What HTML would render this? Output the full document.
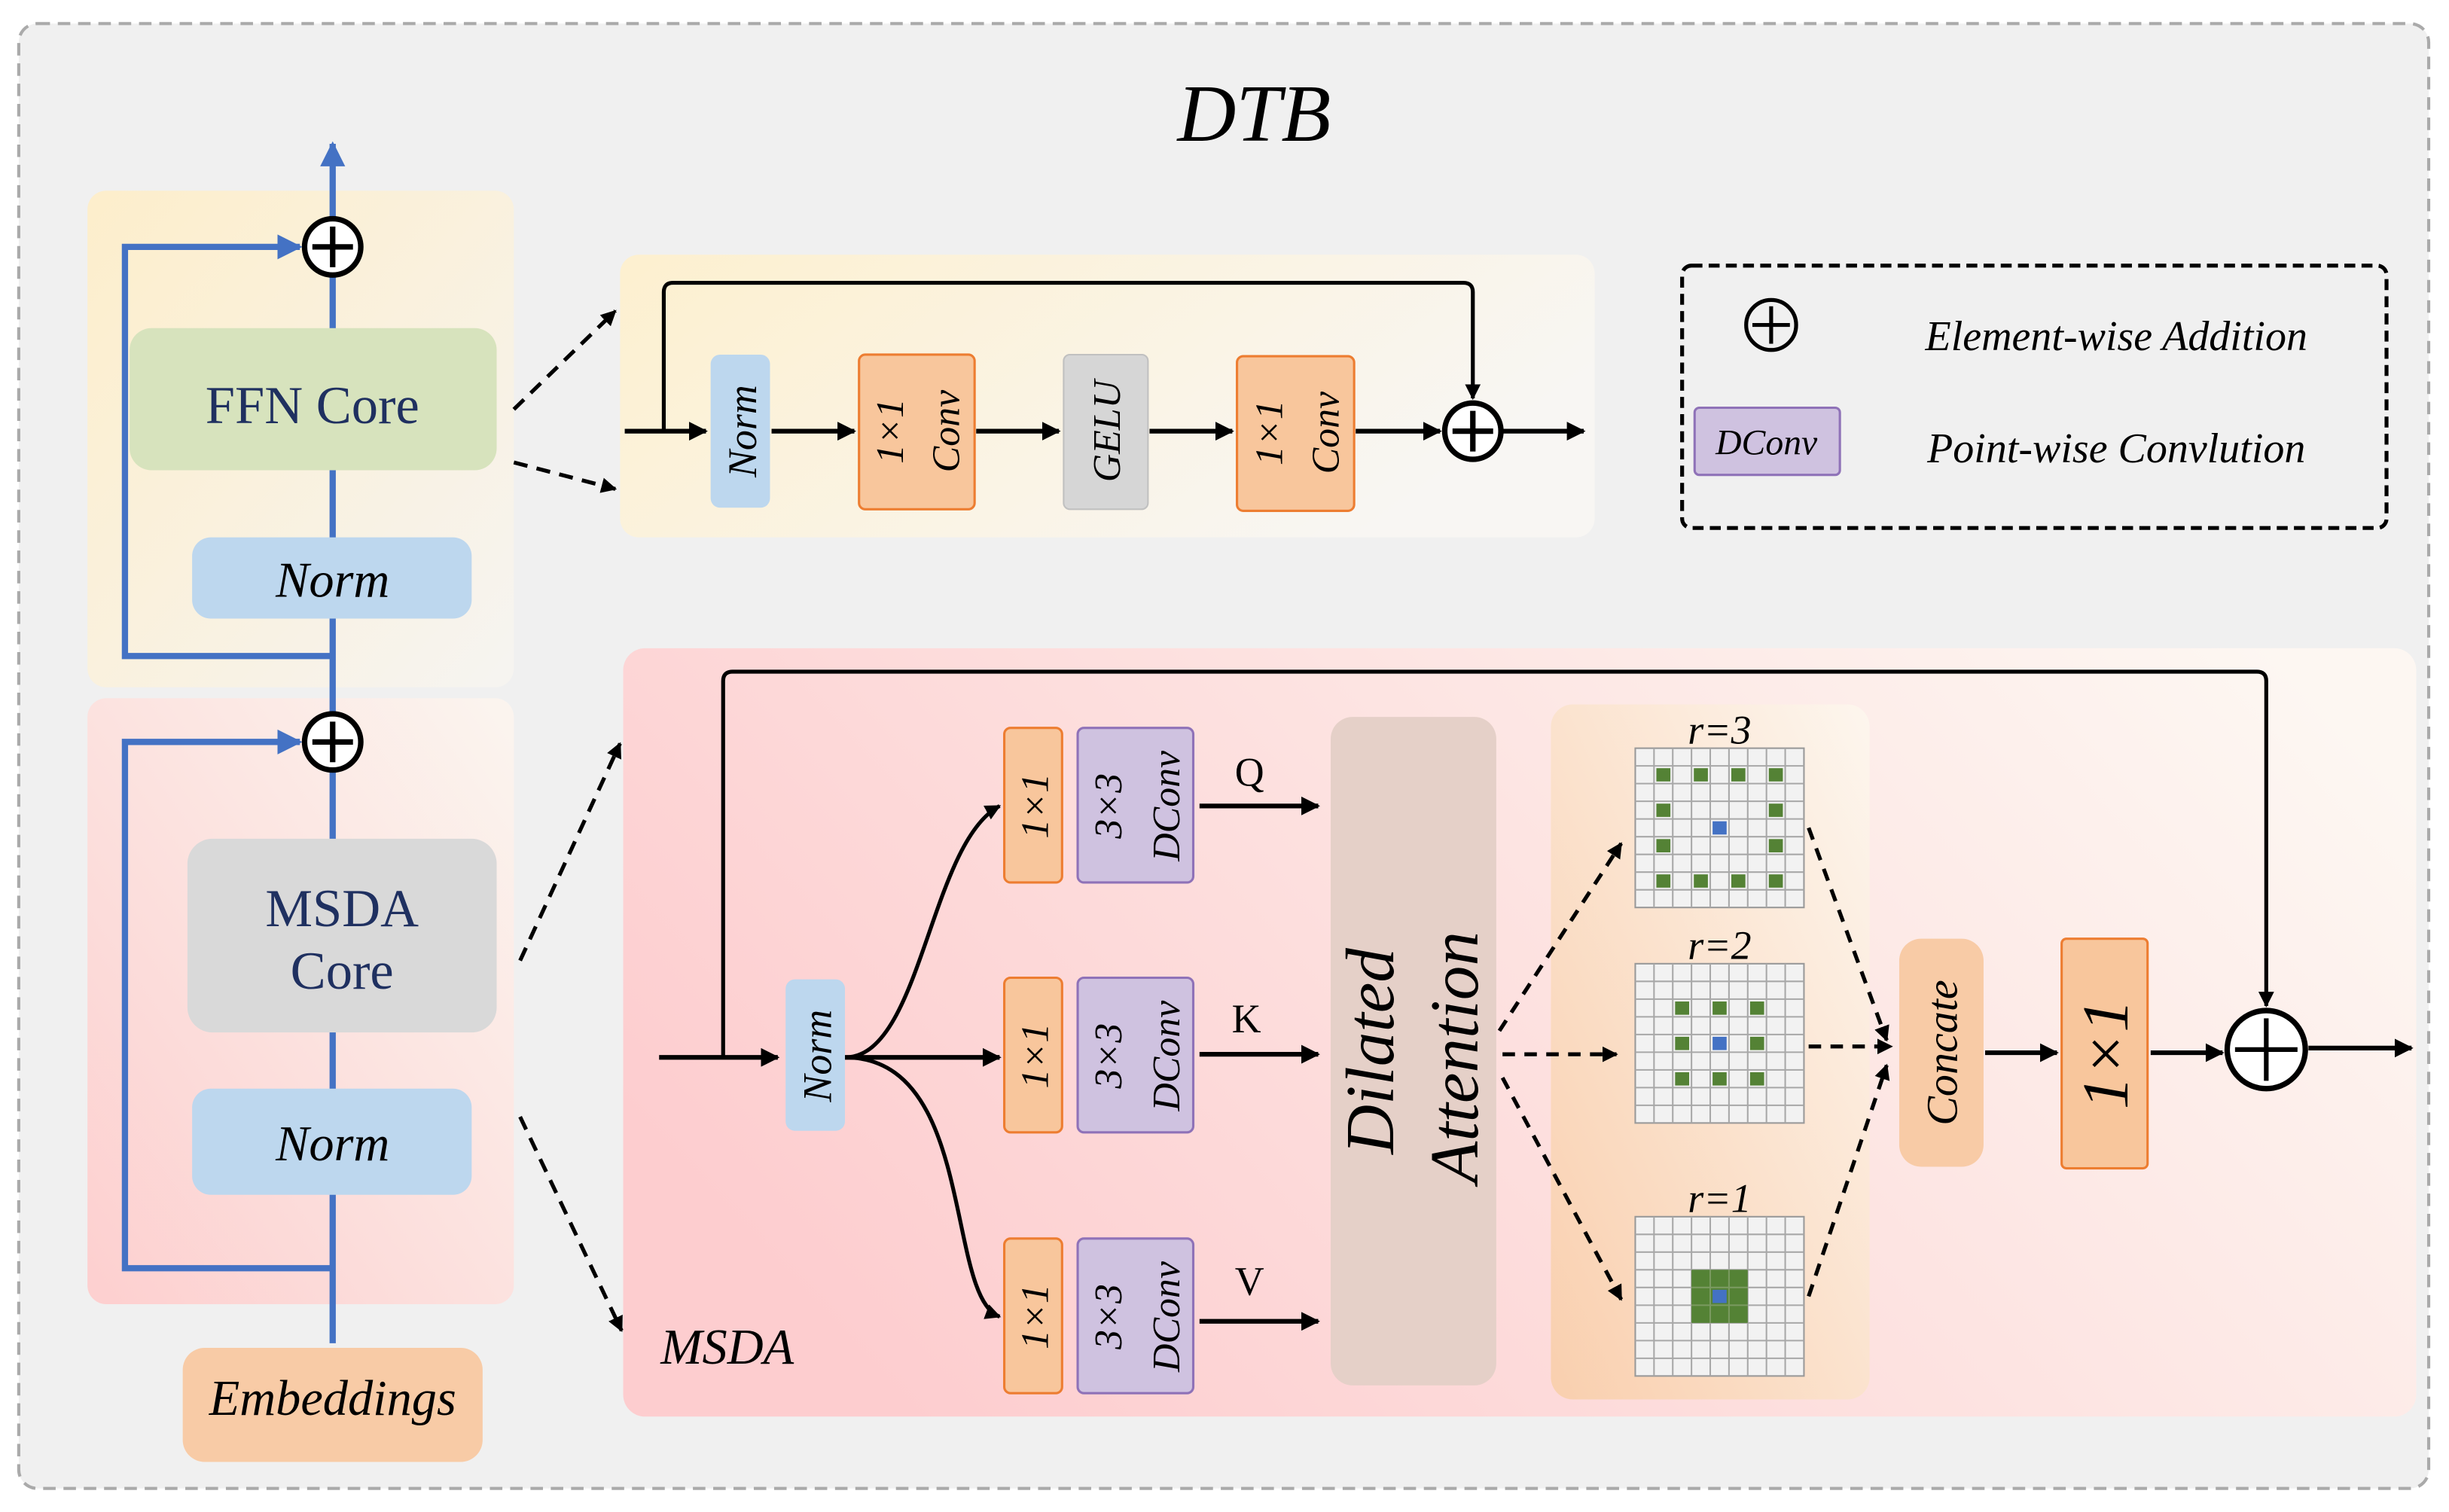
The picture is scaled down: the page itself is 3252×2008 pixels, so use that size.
<!DOCTYPE html>
<html><head><meta charset="utf-8"><style>html,body{margin:0;padding:0;background:#fff}svg{display:block}</style></head><body>
<svg width="3252" height="2008" viewBox="0 0 1568 968" xmlns="http://www.w3.org/2000/svg" font-family="'Liberation Serif', serif">
<defs>
<linearGradient id="gy" x1="0" y1="0" x2="1" y2="1"><stop offset="0" stop-color="#fdeecb"/><stop offset="1" stop-color="#f6f4f1"/></linearGradient>
<linearGradient id="gy2" x1="0" y1="0" x2="1" y2="0.4"><stop offset="0" stop-color="#fdf0cf"/><stop offset="1" stop-color="#f8f6f3"/></linearGradient>
<linearGradient id="gp" x1="0" y1="1" x2="1" y2="0"><stop offset="0" stop-color="#fdcfcf"/><stop offset="1" stop-color="#fbf5ef"/></linearGradient>
<linearGradient id="gp2" x1="0" y1="0.6" x2="1" y2="0.2"><stop offset="0" stop-color="#fdcdcf"/><stop offset="0.55" stop-color="#fde4e2"/><stop offset="1" stop-color="#fdf7f2"/></linearGradient>
<linearGradient id="gg" x1="1" y1="0" x2="0" y2="1"><stop offset="0" stop-color="#fdf6ee"/><stop offset="1" stop-color="#f9cfae"/></linearGradient>
<marker id="ab" viewBox="0 0 10 10" refX="9" refY="5" markerWidth="4" markerHeight="4" orient="auto"><path d="M0,0L10,5L0,10z" fill="#000"/></marker>
<marker id="abl" viewBox="0 0 10 10" refX="9" refY="5" markerWidth="4" markerHeight="4" orient="auto"><path d="M0,0L10,5L0,10z" fill="#4472c4"/></marker>
<g id="grid">
<rect x="0" y="0" width="108" height="102" fill="#f2f2f2" stroke="#999" stroke-width="1"/>
<path d="M12,0V102M24,0V102M36,0V102M48,0V102M60,0V102M72,0V102M84,0V102M96,0V102M0,11.33H108M0,22.67H108M0,34H108M0,45.33H108M0,56.67H108M0,68H108M0,79.33H108M0,90.67H108" stroke="#a8a8a8" stroke-width="1" fill="none"/>
</g>
<g id="plus"><circle r="18" fill="#fff" stroke="#000" stroke-width="3.5"/><path d="M-13,0H13M0,-13V13" stroke="#000" stroke-width="3.5"/></g>
</defs>
<rect width="1568" height="968" fill="#fff"/>
<rect x="12" y="15" width="1543" height="938" rx="12" fill="#f0f0f0" stroke="#aaa" stroke-width="2" stroke-dasharray="8,5"/>
<text x="803" y="90" font-size="52" font-style="italic" text-anchor="middle">DTB</text>

<!-- left panels -->
<rect x="56" y="122" width="273" height="318" rx="12" fill="url(#gy)"/>
<rect x="56" y="447" width="273" height="388" rx="12" fill="url(#gp)"/>
<!-- blue lines -->
<g stroke="#4472c4" stroke-width="4" fill="none">
<path d="M213,860V92" marker-end="url(#abl)"/>
<path d="M213,420H80V158H192" marker-end="url(#abl)"/>
<path d="M213,812H80V475H192" marker-end="url(#abl)"/>
</g>
<rect x="83" y="210" width="235" height="91" rx="14" fill="#d7e3bd"/>
<text x="200" y="271" font-size="34" fill="#1f3060" text-anchor="middle">FFN Core</text>
<rect x="123" y="344" width="179" height="52" rx="12" fill="#bdd7ee"/>
<text x="213" y="382" font-size="32" font-style="italic" text-anchor="middle">Norm</text>
<rect x="120" y="537" width="198" height="124" rx="16" fill="#d9d9d9"/>
<text x="219" y="593" font-size="34" fill="#1f3060" text-anchor="middle">MSDA</text>
<text x="219" y="633" font-size="34" fill="#1f3060" text-anchor="middle">Core</text>
<rect x="123" y="697" width="179" height="68" rx="12" fill="#bdd7ee"/>
<text x="213" y="743" font-size="32" font-style="italic" text-anchor="middle">Norm</text>
<rect x="117" y="863" width="192" height="73" rx="14" fill="#f8cba6"/>
<text x="213" y="906" font-size="32" font-style="italic" text-anchor="middle">Embeddings</text>
<use href="#plus" x="213" y="158"/>
<use href="#plus" x="213" y="475"/>

<!-- dashed connectors -->
<g stroke="#000" stroke-width="2.5" fill="none" stroke-dasharray="9,6">
<path d="M329,262L394,199" marker-end="url(#ab)"/>
<path d="M329,296L394,313" marker-end="url(#ab)"/>
<path d="M333,615L397,476" marker-end="url(#ab)"/>
<path d="M333,715L398,852" marker-end="url(#ab)"/>
</g>

<!-- FFN detail -->
<rect x="397" y="163" width="624" height="181" rx="12" fill="url(#gy2)"/>
<g stroke="#000" stroke-width="3" fill="none">
<path d="M425,276V187Q425,181 431,181H937Q943,181 943,187V255" stroke-width="2.5" marker-end="url(#ab)"/>
<path d="M400,276H452" marker-end="url(#ab)"/>
<path d="M494,276H547" marker-end="url(#ab)"/>
<path d="M625,276H678" marker-end="url(#ab)"/>
<path d="M736,276H789" marker-end="url(#ab)"/>
<path d="M868,276H922" marker-end="url(#ab)"/>
<path d="M962,276H1014" marker-end="url(#ab)"/>
</g>
<rect x="455" y="227" width="38" height="98" rx="6" fill="#bdd7ee"/>
<text transform="translate(484,276) rotate(-90)" font-size="26" font-style="italic" text-anchor="middle">Norm</text>
<rect x="550" y="227" width="74" height="99" rx="4" fill="#f8c69c" stroke="#ed7d31" stroke-width="1.5"/>
<text transform="translate(578,276) rotate(-90)" font-size="25" font-style="italic" text-anchor="middle">1×1</text>
<text transform="translate(614,276) rotate(-90)" font-size="25" font-style="italic" text-anchor="middle">Conv</text>
<rect x="681" y="227" width="54" height="99" rx="4" fill="#d6d6d6" stroke="#c0c0c0" stroke-width="1"/>
<text transform="translate(717,276) rotate(-90)" font-size="25" font-style="italic" text-anchor="middle">GELU</text>
<rect x="792" y="228" width="75" height="99" rx="4" fill="#f8c69c" stroke="#ed7d31" stroke-width="1.5"/>
<text transform="translate(821,277) rotate(-90)" font-size="25" font-style="italic" text-anchor="middle">1×1</text>
<text transform="translate(857,277) rotate(-90)" font-size="25" font-style="italic" text-anchor="middle">Conv</text>
<use href="#plus" x="943" y="276"/>

<!-- legend -->
<rect x="1077" y="170" width="451" height="168" rx="6" fill="none" stroke="#000" stroke-width="2.5" stroke-dasharray="7,4"/>
<g transform="translate(1134,208)"><circle r="16" fill="none" stroke="#000" stroke-width="2.5"/><path d="M-12,0H12M0,-12V12" stroke="#000" stroke-width="2.5"/></g>
<text x="1355" y="224" font-size="27" font-style="italic" text-anchor="middle">Element-wise Addition</text>
<rect x="1085" y="261" width="93" height="43" rx="3" fill="#cfc2e0" stroke="#8f72b8" stroke-width="1.5"/>
<text x="1131" y="291" font-size="23" font-style="italic" text-anchor="middle">DConv</text>
<text x="1355" y="296" font-size="27" font-style="italic" text-anchor="middle">Point-wise Convlution</text>

<!-- MSDA detail -->
<rect x="399" y="415" width="1148" height="492" rx="14" fill="url(#gp2)"/>
<text x="423" y="873" font-size="32" font-style="italic">MSDA</text>
<rect x="993" y="451" width="204" height="445" rx="14" fill="url(#gg)"/>
<g stroke="#000" stroke-width="3" fill="none">
<path d="M463,677V436Q463,430 469,430H1445Q1451,430 1451,436V644" stroke-width="2.5" marker-end="url(#ab)"/>
<path d="M422,677H498" marker-end="url(#ab)"/>
<path d="M541,677C590,677 595,540 640,516" stroke-width="2.5" marker-end="url(#ab)"/>
<path d="M541,677H640" marker-end="url(#ab)"/>
<path d="M541,677C625,677 605,830 640,843" stroke-width="2.5" marker-end="url(#ab)"/>
<path d="M768,516H844" marker-end="url(#ab)"/>
<path d="M768,675H844" marker-end="url(#ab)"/>
<path d="M768,846H844" marker-end="url(#ab)"/>
<path d="M1271,674H1317" marker-end="url(#ab)"/>
<path d="M1377,674H1423" marker-end="url(#ab)"/>
<path d="M1478,671H1544" marker-end="url(#ab)"/>
</g>
<g stroke="#000" stroke-width="2.5" fill="none" stroke-dasharray="8,6">
<path d="M960,660L1038,540" marker-end="url(#ab)"/>
<path d="M962,675H1035" marker-end="url(#ab)"/>
<path d="M962,690L1038,832" marker-end="url(#ab)"/>
<path d="M1158,530L1208,666" marker-end="url(#ab)"/>
<path d="M1158,670H1211" marker-end="url(#ab)"/>
<path d="M1158,830L1208,682" marker-end="url(#ab)"/>
</g>
<rect x="503" y="627" width="38" height="97" rx="6" fill="#bdd7ee"/>
<text transform="translate(532,676) rotate(-90)" font-size="26" font-style="italic" text-anchor="middle">Norm</text>
<g font-size="25" font-style="italic" text-anchor="middle">
<rect x="643" y="466" width="37" height="99" rx="4" fill="#f8c69c" stroke="#ed7d31" stroke-width="1.5"/>
<text transform="translate(671,516) rotate(-90)">1×1</text>
<rect x="690" y="466" width="74" height="99" rx="4" fill="#cfc2e0" stroke="#8f72b8" stroke-width="1.5"/>
<text transform="translate(718,516) rotate(-90)">3×3</text>
<text transform="translate(755,516) rotate(-90)">DConv</text>
<rect x="643" y="626" width="37" height="99" rx="4" fill="#f8c69c" stroke="#ed7d31" stroke-width="1.5"/>
<text transform="translate(671,676) rotate(-90)">1×1</text>
<rect x="690" y="626" width="74" height="99" rx="4" fill="#cfc2e0" stroke="#8f72b8" stroke-width="1.5"/>
<text transform="translate(718,676) rotate(-90)">3×3</text>
<text transform="translate(755,676) rotate(-90)">DConv</text>
<rect x="643" y="793" width="37" height="99" rx="4" fill="#f8c69c" stroke="#ed7d31" stroke-width="1.5"/>
<text transform="translate(671,843) rotate(-90)">1×1</text>
<rect x="690" y="793" width="74" height="99" rx="4" fill="#cfc2e0" stroke="#8f72b8" stroke-width="1.5"/>
<text transform="translate(718,843) rotate(-90)">3×3</text>
<text transform="translate(755,843) rotate(-90)">DConv</text>
</g>
<g font-size="26" text-anchor="middle"><text x="800" y="503">Q</text><text x="798" y="661">K</text><text x="800" y="829">V</text></g>
<rect x="852" y="459" width="106" height="428" rx="14" fill="#e5d0c8"/>
<text transform="translate(892,673) rotate(-90)" font-size="44" font-style="italic" text-anchor="middle">Dilated</text>
<text transform="translate(946,677) rotate(-90)" font-size="44" font-style="italic" text-anchor="middle">Attention</text>

<!-- grids -->
<g font-size="26" font-style="italic" text-anchor="middle"><text x="1101" y="476">r=3</text><text x="1101" y="614">r=2</text><text x="1101" y="776">r=1</text></g>
<g transform="translate(1047,479)"><use href="#grid"/>
<g fill="#548235"><rect x="13.5" y="12.8" width="9" height="8.5"/><rect x="37.5" y="12.8" width="9" height="8.5"/><rect x="61.5" y="12.8" width="9" height="8.5"/><rect x="85.5" y="12.8" width="9" height="8.5"/>
<rect x="13.5" y="35.5" width="9" height="8.5"/><rect x="85.5" y="35.5" width="9" height="8.5"/>
<rect x="13.5" y="58.2" width="9" height="8.5"/><rect x="85.5" y="58.2" width="9" height="8.5"/>
<rect x="13.5" y="80.8" width="9" height="8.5"/><rect x="37.5" y="80.8" width="9" height="8.5"/><rect x="61.5" y="80.8" width="9" height="8.5"/><rect x="85.5" y="80.8" width="9" height="8.5"/></g>
<rect x="49.5" y="46.8" width="9" height="8.5" fill="#4472c4"/></g>
<g transform="translate(1047,617)"><use href="#grid"/>
<g fill="#548235"><rect x="25.5" y="24.2" width="9" height="8.5"/><rect x="49.5" y="24.2" width="9" height="8.5"/><rect x="73.5" y="24.2" width="9" height="8.5"/>
<rect x="25.5" y="46.8" width="9" height="8.5"/><rect x="73.5" y="46.8" width="9" height="8.5"/>
<rect x="25.5" y="69.5" width="9" height="8.5"/><rect x="49.5" y="69.5" width="9" height="8.5"/><rect x="73.5" y="69.5" width="9" height="8.5"/></g>
<rect x="49.5" y="46.8" width="9" height="8.5" fill="#4472c4"/></g>
<g transform="translate(1047,779)"><use href="#grid"/>
<rect x="36" y="34" width="36" height="34" fill="#548235"/>
<path d="M48,34V68M60,34V68M36,45.33H72M36,56.67H72" stroke="#7a9a60" stroke-width="1"/>
<rect x="49.5" y="46.8" width="9" height="8.5" fill="#4472c4"/></g>

<rect x="1216" y="601" width="54" height="146" rx="14" fill="#f8cba6"/>
<text transform="translate(1253,674) rotate(-90)" font-size="28" font-style="italic" text-anchor="middle">Concate</text>
<rect x="1320" y="601" width="55" height="147" rx="3" fill="#f8c69c" stroke="#ed7d31" stroke-width="1.5"/>
<text transform="translate(1362,675) rotate(-90)" font-size="42" font-style="italic" text-anchor="middle">1×1</text>
<g transform="translate(1451,672)"><circle r="25" fill="#fff" stroke="#000" stroke-width="3.5"/><path d="M-20,0H20M0,-20V20" stroke="#000" stroke-width="3"/></g>
</svg>
</body></html>
